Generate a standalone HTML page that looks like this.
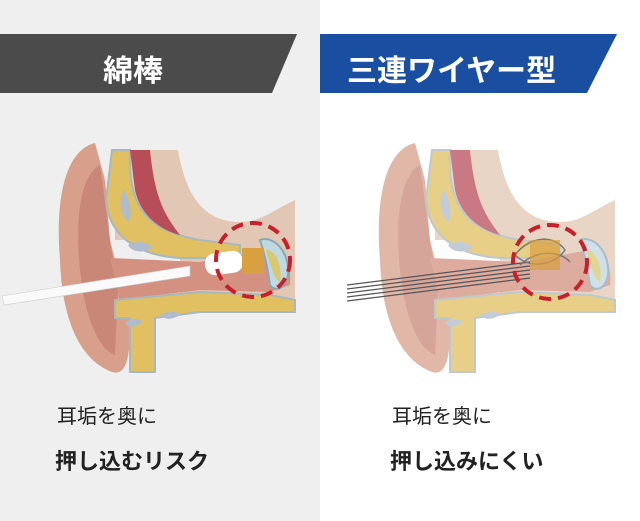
<!DOCTYPE html>
<html><head><meta charset="utf-8"><style>
body{margin:0;width:640px;height:521px;overflow:hidden;background:#fff;font-family:"Liberation Sans","Noto Sans CJK JP",sans-serif;position:relative}
.t{position:absolute;color:#222;font-size:20px;white-space:nowrap}
.b{font-weight:bold;font-size:22px}
</style></head><body>
<svg width="640" height="521" style="position:absolute;left:0;top:0">
<defs>
<g id="ear">
 <path d="M95,143 C65,150 55,200 60,260 C62,320 80,360 112,372 C125,376 130,360 130,330 L130,305 L120,280 L110,240 L105,180 Z" fill="#d8a08a"/>
 <path d="M100,165 C80,175 75,220 80,270 C85,320 100,350 115,355 L118,290 L110,240 Z" fill="#c98877"/>
 <path d="M115,150 L178,150 C185,190 200,222 240,222 C260,222 270,212 295,200 L295,310 L180,310 L180,240 L115,240 Z" fill="#e2c8b4"/>
 <path d="M112,150 L130,150 C128,200 140,230 200,240 L240,245 L240,258 L180,258 C130,255 108,230 106,200 Z" fill="#e0c060" stroke="#a8b8c0" stroke-width="2"/>
 <path d="M124,190 C118,200 120,215 128,222 C133,215 130,200 124,190 Z" fill="#aebccc"/>
 <path d="M128,245 C135,240 150,242 152,248 C145,253 132,253 128,245Z" fill="#aebccc"/>
 <path d="M130,150 L150,150 C155,200 165,215 180,235 C160,230 140,215 135,190 Z" fill="#b84d5a"/>
 <path d="M110,258 L200,262 L270,250 C285,250 292,265 290,285 L270,292 L200,290 L120,300 Z" fill="#d49080"/>
 <path d="M260,240 C272,235 290,250 288,275 C285,290 275,292 270,285 C268,270 265,255 260,240Z" fill="#c0d8e0" stroke="#88a8b8" stroke-width="2"/>
 <path d="M266,250 C275,250 283,265 280,282 C275,280 270,265 266,250Z" fill="#d8c870"/>
 <path d="M115,300 L200,292 L270,295 L295,300 L295,312 L200,312 L155,318 L155,372 L130,372 L130,318 L115,318 Z" fill="#e0c060" stroke="#a8b8c0" stroke-width="2"/>
 <path d="M125,323 C130,318 140,318 142,322 C135,328 128,328 125,323Z" fill="#aebccc"/>
 <path d="M160,315 C170,310 180,312 180,315 C172,320 164,320 160,315Z" fill="#aebccc"/>
</g>
</defs>
<rect x="0" y="0" width="320" height="521" fill="#efefef"/>
<polygon points="0,34 297,34 272,93 0,93" fill="#4b4b4b"/>
<polygon points="320,34 617,34 587,93 320,93" fill="#1a4ea0"/>
<use href="#ear" x="0" y="0"/>
<g opacity="0.75"><use href="#ear" x="320" y="0"/></g>
<polygon points="2,296 190,266 190,276 4,305" fill="#fafafa" stroke="#ccc" stroke-width="0.6"/>
<rect x="205" y="252" width="38" height="22" rx="10" fill="#fff" transform="rotate(-8 224 263)"/>
<rect x="242" y="248" width="22" height="26" fill="#d8a040"/>
<circle cx="253" cy="260" r="37" fill="none" stroke="#c8202a" stroke-width="4" stroke-dasharray="12 7"/>
<g stroke="#555" stroke-width="1.2">
<line x1="347" y1="285" x2="530" y2="262"/><line x1="347" y1="289" x2="530" y2="266"/>
<line x1="347" y1="293" x2="530" y2="270"/><line x1="347" y1="297" x2="530" y2="274"/>
<line x1="347" y1="301" x2="530" y2="278"/>
</g>
<g stroke="#777" stroke-width="1.5" fill="none">
<path d="M515,255 C530,235 555,235 565,250 C555,265 530,270 515,255"/>
<path d="M520,265 C535,250 560,250 570,262"/>
</g>
<rect x="530" y="240" width="30" height="30" fill="#d8a040" opacity="0.7"/>
<circle cx="550" cy="262" r="37" fill="none" stroke="#c8202a" stroke-width="4" stroke-dasharray="12 7"/>
</svg>
<div class="t" style="left:103px;top:46px;color:#fff;font-size:30px;font-weight:bold">綿棒</div>
<div class="t" style="left:347px;top:46px;color:#fff;font-size:30px;font-weight:bold">三連ワイヤー型</div>
<div class="t" style="left:57px;top:400px">耳垢を奥に</div>
<div class="t b" style="left:55px;top:444px">押し込むリスク</div>
<div class="t" style="left:392px;top:400px">耳垢を奥に</div>
<div class="t b" style="left:390px;top:444px">押し込みにくい</div>
</body></html>
